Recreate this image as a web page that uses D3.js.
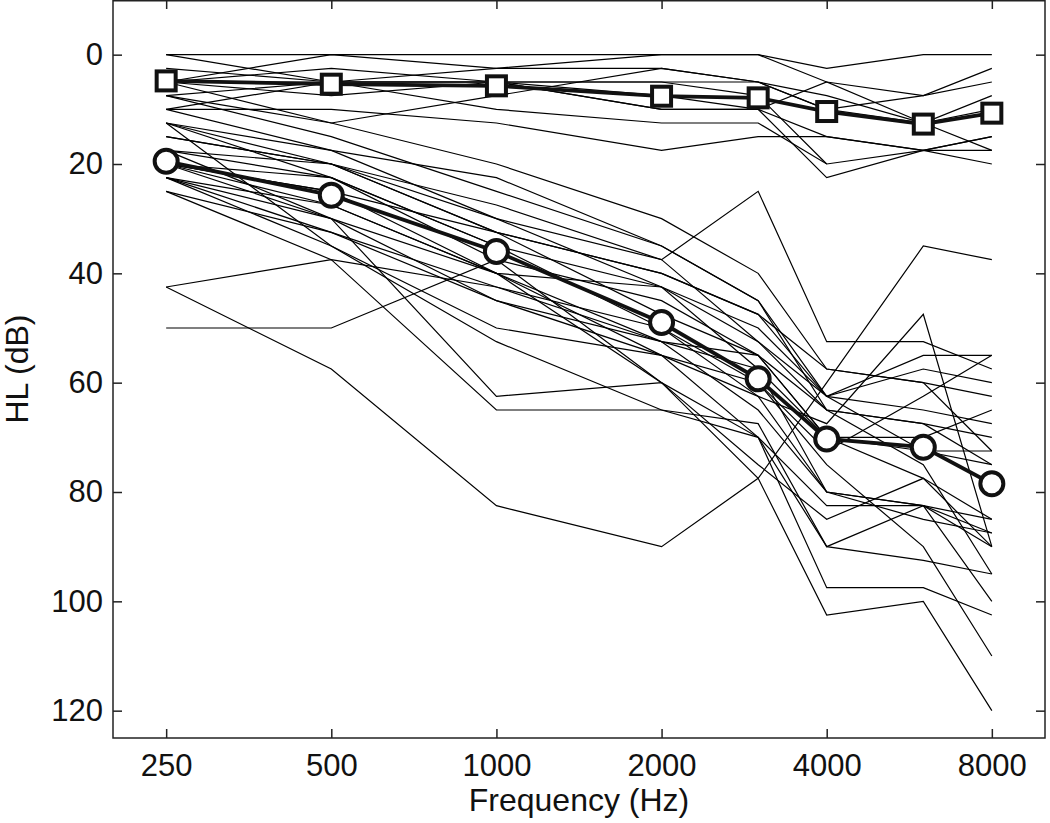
<html>
<head>
    <script src="https://d3js.org/d3.v7.min.js"></script>
    <style>
        body { margin: 0; background: #fff; }
        text { font-family: "Liberation Sans", Arial, sans-serif; fill: #111; }
    </style>
</head>
<body>
<svg id="chart"></svg>
<script>
// frequencies tested (Hz)
const freqs = [250, 500, 1000, 2000, 3000, 4000, 6000, 8000];
const xTickLabels = [250, 500, 1000, 2000, 4000, 8000];
const yTicks = [0, 20, 40, 60, 80, 100, 120];

// individual audiograms, normal-hearing listeners (dB HL, null = not measured)
const normalSubjects = [
    [0, 0, 0, 0, 0, 2.5, 0, 0],
    [0, 5, 10, 12.5, 12.5, 20, 17.5, 20],
    [5, 0, 2.5, 0, 0, 5, 7.5, 5],
    [5, 5, 2.5, 2.5, 5, 7.5, 12.5, 7.5],
    [5, 7.5, 5, 10, 10, 15, 17.5, 15],
    [7.5, 5, 5, 5, 7.5, 20, null, null],
    [10, 10, 12.5, 17.5, 15, 15, 17.5, 17.5],
    [2.5, 5, 5, 5, 5, 10, 7.5, 2.5],
    [5, 2.5, 5, 7.5, 10, 22.5, 17.5, 15],
    [7.5, 12.5, 7.5, 2.5, 5, 10, 12.5, 10],
    [10, 5, 5, 10, 10, 5, 12.5, 17.5]
];

// individual audiograms, hearing-impaired listeners (dB HL)
const lossSubjects = [
    [42.5, 57.5, 82.5, 90, 77.5, 60, 35, 37.5],
    [50, 50, 37.5, 45, 55, 65, 67.5, 70],
    [15, 20, 30, 37.5, 25, 52.5, 52.5, 57.5],
    [20, 27.5, 40, 55, 62.5, 67.5, 47.5, 90],
    [42.5, 37.5, 42.5, 52.5, 65, 80, 82.5, 87.5],
    [12.5, 35, 52.5, 65, 70, 82.5, 82.5, 100],
    [20, 30, 62.5, 60, 70, 97.5, 97.5, 102.5],
    [25, 37.5, 65, 65, 67.5, 90, 82.5, 90],
    [12.5, 20, 32.5, 40, 47.5, 57.5, 60, 72.5],
    [17.5, 22.5, 35, 42.5, 50, 62.5, 72.5, 75],
    [20, 25, 40, 60, 77.5, 102.5, 100, 120],
    [22.5, 32.5, 45, 52.5, 55, 70, 77.5, 85],
    [10, 17.5, 30, 42.5, 52.5, 65, 75, 95],
    [22.5, 35, 50, 55, 60, 75, 90, 110],
    [5, 12.5, 20, 30, 40, 57.5, 60, 62.5],
    [7.5, 15, 25, 35, 45, 62.5, 65, 67.5],
    [20, 25, 32.5, 47.5, 55, 70, 72.5, 72.5],
    [17.5, 20, 32.5, 40, 47.5, 62.5, 57.5, 60],
    [25, 32.5, 42.5, 50, 62.5, 80, 85, 87.5],
    [22.5, 30, 40, 52.5, 57.5, 70, 70, 65],
    [12.5, 17.5, 22.5, 35, 45, 65, 67.5, 75],
    [20, 22.5, 35, 50, 60, 72.5, 62.5, 55],
    [15, 20, 27.5, 37.5, 52.5, 62.5, 55, 55],
    [17.5, 30, 45, 55, 70, 90, 92.5, 95],
    [12.5, 22.5, 37.5, 60, 75, 85, 77.5, 90],
    [22.5, 27.5, 40, 42.5, 57.5, 80, 82.5, 85]
];

// group means
const normalMean = [4.8, 5.4, 5.7, 7.6, 7.9, 10.4, 12.7, 10.7];
const lossMean = [19.5, 25.7, 36, 49, 59.3, 70.3, 71.8, 78.5];

const width = 1050;
const height = 823;
const margin = { top: 0, right: 5, bottom: 85, left: 113 };
const plotW = width - margin.left - margin.right;
const plotH = height - margin.top - margin.bottom;

const svg = d3.select("#chart")
    .attr("width", width)
    .attr("height", height);

const g = svg.append("g")
    .attr("transform", "translate(" + margin.left + "," + margin.top + ")");

const x = d3.scaleLog().domain([200, 10000]).range([0, plotW]);
const y = d3.scaleLinear().domain([-10, 125]).range([0, plotH]);

const line = d3.line()
    .defined(d => d[1] != null)
    .x(d => x(d[0]))
    .y(d => y(d[1]));

const pair = vals => freqs.map((f, i) => [f, vals[i]]);

// thin individual lines
g.append("g").selectAll("path")
    .data(normalSubjects.concat(lossSubjects))
    .join("path")
    .attr("d", d => line(pair(d)))
    .attr("fill", "none")
    .attr("stroke", "#000")
    .attr("stroke-width", 1.2);

// mean lines
[normalMean, lossMean].forEach(m => {
    g.append("path")
        .attr("d", line(pair(m)))
        .attr("fill", "none")
        .attr("stroke", "#111")
        .attr("stroke-width", 3.8);
});

// square markers (normal)
g.append("g").selectAll("rect")
    .data(pair(normalMean))
    .join("rect")
    .attr("x", d => x(d[0]) - 9.5)
    .attr("y", d => y(d[1]) - 9.5)
    .attr("width", 19)
    .attr("height", 19)
    .attr("fill", "#fff")
    .attr("stroke", "#111")
    .attr("stroke-width", 4);

// circle markers (impaired)
g.append("g").selectAll("circle")
    .data(pair(lossMean))
    .join("circle")
    .attr("cx", d => x(d[0]))
    .attr("cy", d => y(d[1]))
    .attr("r", 11.5)
    .attr("fill", "#fff")
    .attr("stroke", "#111")
    .attr("stroke-width", 4);

// axes - ticks inward on all four sides
const tickLen = 9;
const xBottom = d3.axisBottom(x).tickValues(xTickLabels).tickFormat(d3.format("d"))
    .tickSizeInner(-tickLen).tickSizeOuter(0).tickPadding(16);
const xTop = d3.axisTop(x).tickValues(xTickLabels).tickFormat("")
    .tickSizeInner(-tickLen).tickSizeOuter(0);
const yLeft = d3.axisLeft(y).tickValues(yTicks)
    .tickSizeInner(-tickLen).tickSizeOuter(0).tickPadding(10);
const yRight = d3.axisRight(y).tickValues(yTicks).tickFormat("")
    .tickSizeInner(-tickLen).tickSizeOuter(0);

const axes = [
    g.append("g").attr("transform", "translate(0," + plotH + ")").call(xBottom),
    g.append("g").call(xTop),
    g.append("g").call(yLeft),
    g.append("g").attr("transform", "translate(" + plotW + ",0)").call(yRight)
];
axes.forEach(a => {
    a.select(".domain").remove();
    a.selectAll("line").attr("stroke", "#222").attr("stroke-width", 1.5);
    a.selectAll("text")
        .style("font-family", "'Liberation Sans', Arial, sans-serif")
        .style("font-size", "31px")
        .attr("fill", "#111");
});

// frame
g.append("rect")
    .attr("x", 0)
    .attr("y", 0.75)
    .attr("width", plotW)
    .attr("height", plotH - 0.75)
    .attr("fill", "none")
    .attr("stroke", "#222")
    .attr("stroke-width", 1.5);

// axis labels
svg.append("text")
    .text("Frequency (Hz)")
    .attr("x", margin.left + plotW / 2)
    .attr("y", 811)
    .attr("text-anchor", "middle")
    .style("font-size", "32px");

svg.append("text")
    .text("HL (dB)")
    .attr("transform", "translate(28," + (margin.top + plotH / 2) + ") rotate(-90)")
    .attr("text-anchor", "middle")
    .style("font-size", "32px");
</script>
</body>
</html>
